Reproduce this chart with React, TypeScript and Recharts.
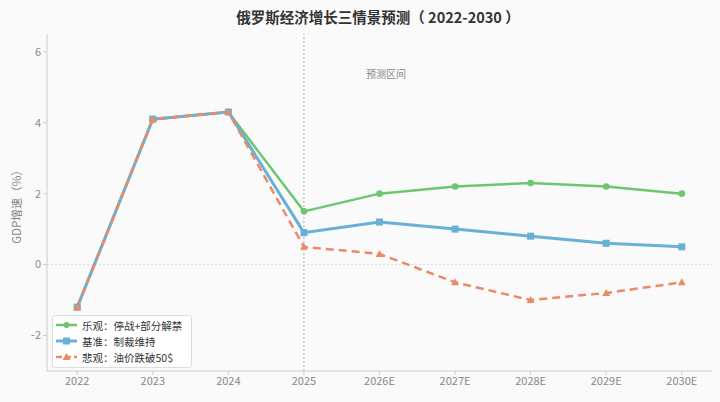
import {
  Line,
  LineChart,
  ReferenceLine,
  XAxis,
  YAxis,
} from "recharts";

const YEARS = ["2022", "2023", "2024", "2025", "2026E", "2027E", "2028E", "2029E", "2030E"];
const OPTIMISTIC = [-1.2, 4.1, 4.3, 1.5, 2.0, 2.2, 2.3, 2.2, 2.0];
const BASELINE = [-1.2, 4.1, 4.3, 0.9, 1.2, 1.0, 0.8, 0.6, 0.5];
const PESSIMISTIC = [-1.2, 4.1, 4.3, 0.5, 0.3, -0.5, -1.0, -0.8, -0.5];
const Y_TICKS = [-2, 0, 2, 4, 6];

const SERIES = [
  { key: "opt", name: "乐观：停战+部分解禁", color: "#6cc76f", width: 2.5, dash: undefined, marker: "circle" },
  { key: "base", name: "基准：制裁维持", color: "#68b0d6", width: 3, dash: undefined, marker: "square" },
  { key: "pess", name: "悲观：油价跌破50$", color: "#eb8a68", width: 2.5, dash: "8 5", marker: "triangle" },
];

const data = YEARS.map((year, idx) => ({
  idx,
  year,
  opt: OPTIMISTIC[idx],
  base: BASELINE[idx],
  pess: PESSIMISTIC[idx],
}));

const FONT = '"Noto Sans CJK SC", "Noto Sans", sans-serif';

function markerShape(kind: string, color: string) {
  return (props: any) => {
    const { cx, cy, index } = props;
    if (cx == null || cy == null) return <g key={index} />;
    if (kind === "square") {
      return <rect key={index} x={cx - 3.5} y={cy - 3.5} width={7} height={7} fill={color} />;
    }
    if (kind === "triangle") {
      return (
        <path
          key={index}
          d={`M${cx},${cy - 4} L${cx + 4},${cy + 3} L${cx - 4},${cy + 3} Z`}
          fill={color}
        />
      );
    }
    return <circle key={index} cx={cx} cy={cy} r={3.3} fill={color} />;
  };
}

function LegendBox() {
  return (
    <div
      style={{
        position: "absolute",
        left: 52,
        top: 315,
        width: 136,
        height: 50,
        border: "1px solid #dddddd",
        borderRadius: 3,
        background: "rgba(255,255,255,0.85)",
        padding: "1px 0 0 2px",
        fontFamily: FONT,
        fontSize: 10.5,
        color: "#333",
        boxSizing: "content-box",
      }}
    >
      {SERIES.map((s) => (
        <div key={s.key} style={{ display: "flex", alignItems: "center", height: 16, whiteSpace: "nowrap" }}>
          <svg width={23} height={10} style={{ marginRight: 4 }}>
            <line
              x1={1}
              x2={22}
              y1={5}
              y2={5}
              stroke={s.color}
              strokeWidth={s.width}
              strokeDasharray={s.dash ? "6 3" : undefined}
            />
            {s.marker === "circle" && <circle cx={11.5} cy={5} r={3} fill={s.color} />}
            {s.marker === "square" && <rect x={8} y={1.5} width={7} height={7} fill={s.color} />}
            {s.marker === "triangle" && <path d="M11.5,1 L15.5,8 L7.5,8 Z" fill={s.color} />}
          </svg>
          <span>{s.name}</span>
        </div>
      ))}
    </div>
  );
}

function ForecastLabel(props: any) {
  const { viewBox } = props;
  if (!viewBox) return null;
  return (
    <text x={viewBox.x + 82} y={viewBox.y + 44} textAnchor="middle" fontSize={10} fill="#888" fontFamily={FONT}>
      预测区间
    </text>
  );
}

export default function App() {
  return (
    <div style={{ width: 720, height: 402, background: "#fafafa", position: "relative" }}>
      <style>{`body{margin:0}`}</style>
      <div
        style={{
          position: "absolute",
          top: 6,
          left: 0,
          width: 756,
          textAlign: "center",
          fontFamily: FONT,
          fontWeight: 700,
          fontSize: 14.5,
          color: "#333",
        }}
      >
        俄罗斯经济增长三情景预测（ 2022-2030 ）
      </div>
      <div
        style={{
          position: "absolute",
          left: 16,
          top: 204,
          transform: "translate(-50%, -50%) rotate(-90deg)",
          fontFamily: FONT,
          fontSize: 11.5,
          color: "#888",
          whiteSpace: "nowrap",
        }}
      >
        GDP增速（%）
      </div>
      <LineChart
        width={720}
        height={402}
        data={data}
        margin={{ top: 34, right: 8, bottom: 0, left: 10 }}
        style={{ position: "absolute", top: 0, left: 0 }}
      >
        <XAxis
          dataKey="idx"
          type="number"
          domain={[-0.4, 8.4]}
          ticks={YEARS.map((_, i) => i)}
          tickFormatter={(v) => YEARS[v] ?? ""}
          height={31}
          stroke="#cccccc"
          tickSize={4}
          tick={{ fill: "#888", fontSize: 11, fontFamily: FONT }}
          interval={0}
        />
        <YAxis
          type="number"
          domain={[-3, 6.5]}
          ticks={Y_TICKS}
          width={37}
          stroke="#cccccc"
          tickSize={4}
          tick={{ fill: "#888", fontSize: 11, fontFamily: FONT }}
        />
        <ReferenceLine y={0} stroke="#dddddd" strokeDasharray="2 2" />
        <ReferenceLine x={3} stroke="#aaaaaa" strokeDasharray="2 2" label={<ForecastLabel />} />
        {SERIES.map((s) => (
          <Line
            key={s.key}
            type="linear"
            dataKey={s.key}
            name={s.name}
            stroke={s.color}
            strokeWidth={s.width}
            strokeDasharray={s.dash}
            dot={markerShape(s.marker, s.color)}
            activeDot={false}
            isAnimationActive={false}
          />
        ))}
      </LineChart>
      <LegendBox />
    </div>
  );
}
